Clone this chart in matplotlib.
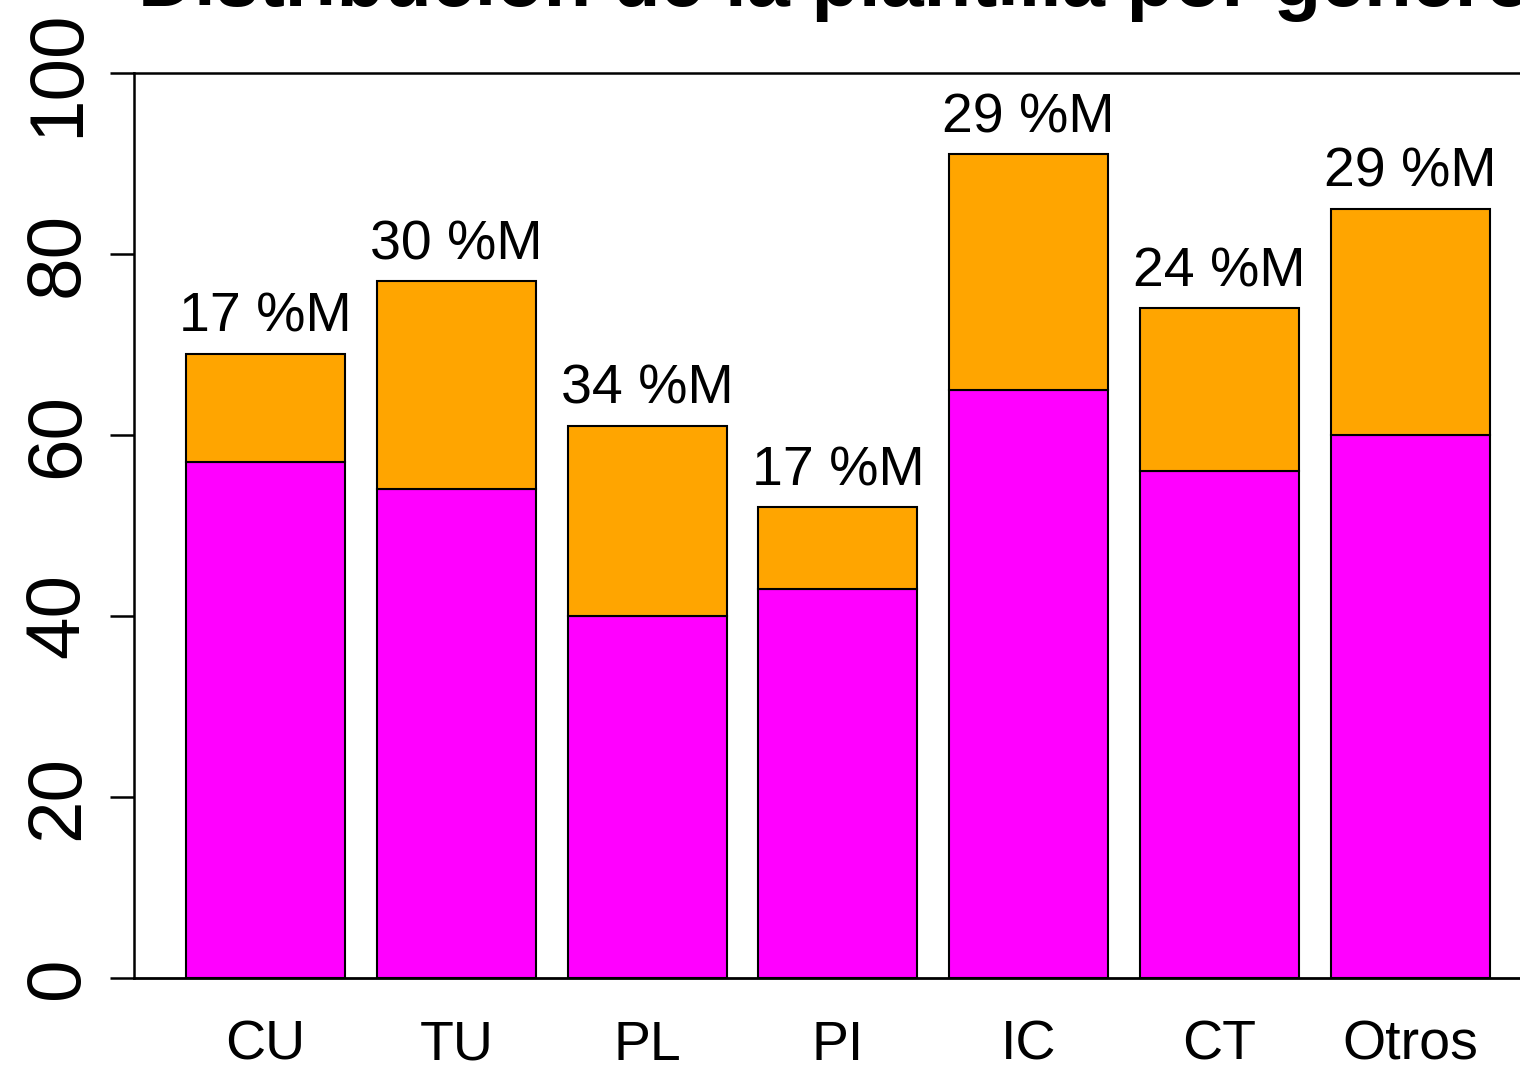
import matplotlib.pyplot as plt

plt.rcParams['font.family'] = ['Liberation Sans', 'DejaVu Sans']

# Plantilla por categoría: hombres (abajo) y mujeres (arriba)
categorias = ["CU", "TU", "PL", "PI", "IC", "CT", "Otros"]
hombres = [57, 54, 40, 43, 65, 56, 60]
mujeres = [12, 23, 21, 9, 26, 18, 25]
yticks = [0, 20, 40, 60, 80, 100]

W, H = 1520, 1068
fig = plt.figure(figsize=(W / 100, H / 100), dpi=100)
ax = fig.add_axes([134 / W, 90 / H, 1 - 134 / W, 905 / H])

# barplot de R: ancho 1, separación 0.2
lefts = [0.2 + 1.2 * i for i in range(len(categorias))]
centros = [l + 0.5 for l in lefts]
ax.bar(lefts, hombres, width=1, align='edge', color='#FF00FF',
       edgecolor='black', linewidth=1.5, clip_on=False)
ax.bar(lefts, mujeres, width=1, bottom=hombres, align='edge', color='#FFA500',
       edgecolor='black', linewidth=1.5, clip_on=False)

ax.set_xlim(-0.127, 8.59)
ax.set_ylim(0, 100)

for s in ['top', 'right', 'bottom']:
    ax.spines[s].set_visible(False)
ax.spines['left'].set_linewidth(1.8)
ax.set_xticks([])
ax.set_yticks(yticks)
ax.set_yticklabels([])
ax.tick_params(axis='y', length=17, width=1.8, direction='out')

# líneas horizontales en 0 y 100
ax.axhline(0, color='black', linewidth=2, clip_on=False, zorder=3)
ax.axhline(100, color='black', linewidth=1.8, clip_on=False, zorder=3)

# etiquetas del eje y, giradas
for v in yticks:
    ax.annotate(str(v), xy=(0, v), xycoords=('axes fraction', 'data'),
                xytext=(-56, 0), textcoords='offset pixels',
                rotation=90, rotation_mode='anchor',
                ha='center', va='baseline', fontsize=55)

# nombres de las categorías
for c, nombre in zip(centros, categorias):
    ax.annotate(nombre, xy=(c, 0), xycoords=('data', 'axes fraction'),
                xytext=(0, -82), textcoords='offset pixels',
                ha='center', va='baseline', fontsize=40)

# porcentaje de mujeres sobre cada barra
for c, h, m in zip(centros, hombres, mujeres):
    total = h + m
    pct = round(100 * m / total)
    ax.annotate(f"{pct} %M", xy=(c, total), xytext=(0, 22),
                textcoords='offset pixels', ha='center', va='baseline',
                fontsize=40, annotation_clip=False)

fig.text(138 / W, 1 - 6 / H, "Distribución de la plantilla por género",
         ha='left', va='baseline', fontsize=56, fontweight='bold')

fig.savefig("out.png", dpi=100)
